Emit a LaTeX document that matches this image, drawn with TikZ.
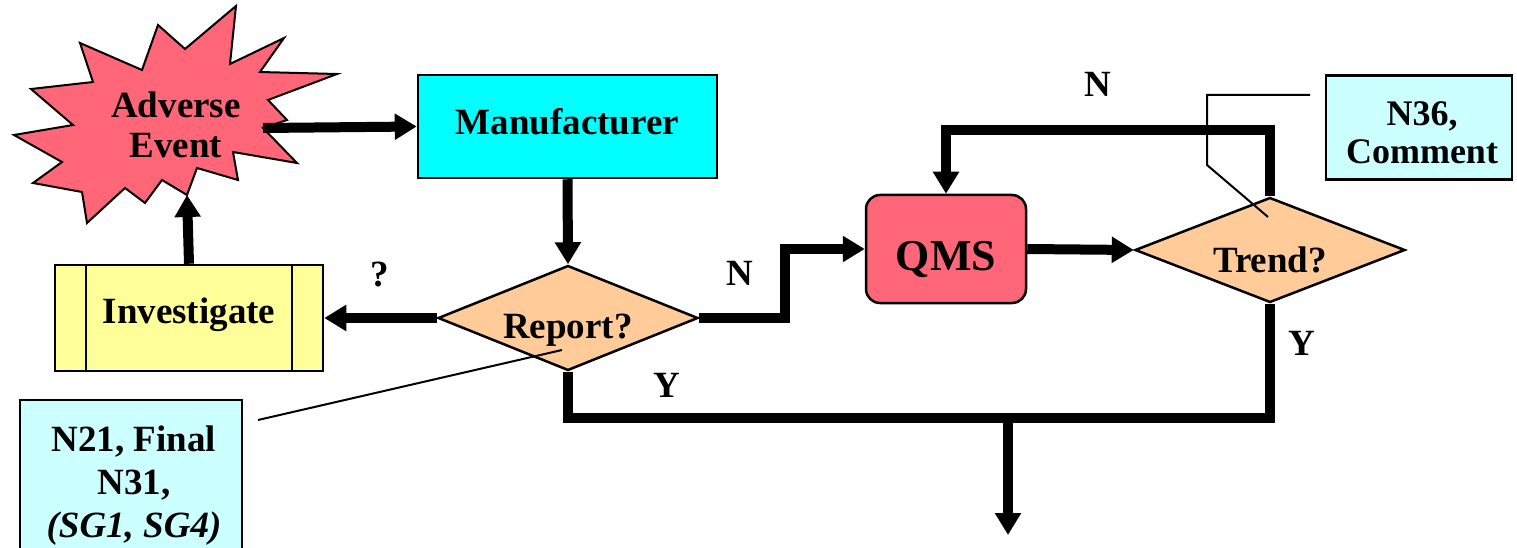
\documentclass[tikz,border=0pt]{standalone}
\usepackage{fontspec}
\setmainfont{Liberation Serif}
\usetikzlibrary{arrows.meta,shapes.geometric}
\definecolor{burst}{HTML}{FF6677}
\definecolor{mancol}{HTML}{00FFFF}
\definecolor{invcol}{HTML}{FFFF99}
\definecolor{peach}{HTML}{FFCC99}
\definecolor{callcol}{HTML}{CCFFFF}
\begin{document}
\begin{tikzpicture}[x=1pt,y=-1pt,
  box/.style={draw, line width=2.5pt, inner sep=0pt},
  lbl/.style={font=\fontsize{37}{40}\selectfont\bfseries},
  dia/.style={diamond, draw, line width=2.5pt, fill=peach, inner sep=0pt, aspect=2.5},
  flow/.style={line width=10pt, line join=miter, -{Triangle[length=22pt,width=25pt]}},
  link/.style={line width=10pt, line join=miter},
  callout/.style={line width=2pt}]
\useasboundingbox (0,0) rectangle (1517,548);

% burst shape
\draw[line width=2pt, line join=miter, fill=burst] (158,25) -- (185,49) -- (236,6) -- (230,64) -- (284,38) -- (260,72) -- (337,74) -- (268,100) -- (287,120) -- (263,128) -- (297,163) -- (233,152) -- (238,180) -- (197,168) -- (187,195) -- (162,180) -- (145,203) -- (125,188) -- (87,223) -- (82,192) -- (33,183) -- (62,162) -- (14,135) -- (73,125) -- (31,89) -- (93,82) -- (80,43) -- (142,70) -- cycle;
\node[lbl, align=center] (ae) at (176,125) {Adverse\\Event\hspace{24pt}};
\coordinate (aeR) at (263,128);
\coordinate (aeB) at (187,195);

% boxes
\node[box, fill=mancol, minimum width=299pt, minimum height=103pt, lbl, text height=17pt, text depth=0pt] (man) at (567.5,126.5) {Manufacturer};
\node[box, fill=invcol, minimum width=268pt, minimum height=106pt, lbl, text height=10pt, text depth=0pt] (inv) at (189,318) {Investigate};
\draw[line width=2pt] ([xshift=32pt]inv.north west) -- ([xshift=32pt]inv.south west);
\draw[line width=2pt] ([xshift=-32pt]inv.north east) -- ([xshift=-32pt]inv.south east);
\node[dia, minimum width=260pt, minimum height=105pt, lbl, text height=40pt, text depth=0pt] (rep) at (568,318) {Report?};
\node[box, rounded corners=14pt, fill=burst, minimum width=160pt, minimum height=108pt, font=\fontsize{44}{48}\selectfont\bfseries, text height=42pt, text depth=0pt] (qms) at (946,249) {QMS};
\node[dia, minimum width=270pt, minimum height=105pt, lbl, text height=45pt, text depth=0pt] (trend) at (1270,250) {Trend?};

% callout boxes
\node[box, fill=callcol, minimum width=186pt, minimum height=104pt] (n36) at (1419,127.5) {};
\node[align=center, font=\fontsize{36}{38}\selectfont\bfseries] (n36t) at (1422,133) {N36,\\Comment};
\node[box, fill=callcol, minimum width=222pt, minimum height=149pt] (n21) at (131,474.5) {};
\node[align=center, font=\fontsize{37}{43}\selectfont\bfseries] (n21t) at (134,486) {N21, Final\\N31,\\\textit{(SG1, SG4)}};

% connectors
\coordinate (jn) at (785,318);
\coordinate (ntop) at (1100,130);
\coordinate (ybar) at (1000,418);
\coordinate (ysplit) at (1008,418);
\coordinate (out) at (1008,535);
\draw[flow] (aeR) -- (man.west);
\draw[flow] (inv.north) -- (aeB);
\draw[flow] (man.south) -- (rep.north);
\draw[flow] (rep.west) -- (inv.east);
\draw[flow] (rep.east) -- (jn) |- (qms.west);
\draw[flow] (qms.east) -- (trend.west);
\draw[flow] (trend.north) |- (ntop) -| (qms.north);
\draw[link] (rep.south) |- (ybar) -| (trend.south);
\draw[flow] (ysplit) -- (out);

% callout lines
\coordinate (c1a) at (562,350);
\coordinate (c1b) at (258,420);
\draw[callout] (c1a) -- (c1b);
\coordinate (c2a) at (1310,95);
\coordinate (c2b) at (1207,95);
\coordinate (c2c) at (1207,165);
\coordinate (c2d) at (1268,217);
\draw[callout] (c2a) -- (c2b) -- (c2c) -- (c2d);

% labels
\node[lbl] (q) at (380,275) {?};
\node[lbl] (n1) at (740,273) {N};
\node[lbl] (y1) at (667,385) {Y};
\node[lbl] (n2) at (1098,84) {N};
\node[lbl] (y2) at (1302,343) {Y};
\end{tikzpicture}
\end{document}
